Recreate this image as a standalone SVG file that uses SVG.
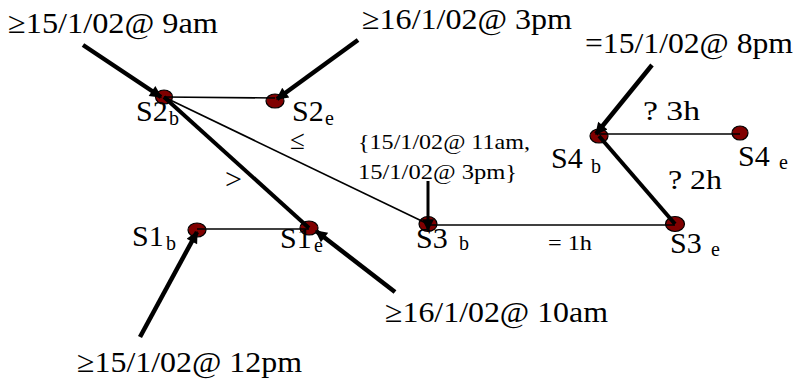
<svg xmlns="http://www.w3.org/2000/svg" width="797" height="383" viewBox="0 0 797 383">
<style>
.node{fill:#800000;stroke:#000;stroke-width:1.2}
.thin{stroke:#000;stroke-width:1.6;fill:none}
.thick{stroke:#000;stroke-width:4;fill:none}
.arrow{stroke:#000;stroke-width:4.5;fill:none;marker-end:url(#ah)}
.arrowv{stroke:#000;stroke-width:3;fill:none;marker-end:url(#ah)}
</style>
<defs>
<marker id="ah" viewBox="0 0 10 10" refX="9" refY="5" markerWidth="14" markerHeight="12" markerUnits="userSpaceOnUse" orient="auto">
<path d="M0,0 L10,5 L0,10 z" fill="#000"/>
</marker>
</defs>
<rect width="797" height="383" fill="#fff"/>

<g font-family="'Liberation Serif', 'DejaVu Serif', serif" fill="#000">
<g id="S2b"><ellipse class="node" cx="164" cy="97" rx="8.5" ry="7"/><text font-size="30" x="136" y="121">S2</text><text font-size="20" x="169" y="125">b</text></g>
<g id="S2e"><ellipse class="node" cx="275" cy="101" rx="9" ry="7"/><text font-size="30" x="292" y="121">S2</text><text font-size="20" x="325" y="125">e</text></g>
<g id="S1b"><ellipse class="node" cx="197" cy="230" rx="9" ry="7"/><text font-size="30" x="132" y="246">S1</text><text font-size="20" x="166" y="250">b</text></g>
<g id="S1e"><ellipse class="node" cx="309" cy="228" rx="9" ry="7"/><text font-size="30" x="280" y="248">S1</text><text font-size="20" x="314" y="252">e</text></g>
<g id="S3b"><ellipse class="node" cx="428" cy="224" rx="9" ry="7.5"/><text font-size="30" x="416" y="248">S3</text><text font-size="20" x="459" y="250">b</text></g>
<g id="S3e"><ellipse class="node" cx="675" cy="224" rx="9.5" ry="7.5"/><text font-size="30" x="670" y="253">S3</text><text font-size="20" x="711" y="256">e</text></g>
<g id="S4b"><ellipse class="node" cx="599" cy="136" rx="9" ry="7"/><text font-size="30" x="551" y="168">S4</text><text font-size="20" x="591" y="173">b</text></g>
<g id="S4e"><ellipse class="node" cx="740" cy="133" rx="8" ry="7"/><text font-size="30" x="738" y="166">S4</text><text font-size="20" x="779" y="169">e</text></g>
</g>

<g id="connectors">
<line class="thin" x1="164" y1="97" x2="275" y2="98"/>
<line class="thin" x1="164" y1="97" x2="428" y2="224"/>
<line class="thin" x1="197" y1="229" x2="309" y2="229"/>
<line class="thin" x1="428" y1="225" x2="675" y2="225"/>
<line class="thin" x1="599" y1="134" x2="740" y2="134"/>
<line class="thick" x1="164" y1="97" x2="309" y2="228"/>
<line class="thick" x1="599" y1="136" x2="675" y2="224"/>
<line class="arrow" x1="83" y1="45" x2="161" y2="97"/>
<line class="arrow" x1="358" y1="40" x2="277" y2="99"/>
<line class="arrow" x1="652" y1="65" x2="596" y2="134"/>
<line class="arrow" x1="140" y1="337" x2="197" y2="232"/>
<line class="arrow" x1="395" y1="292" x2="316" y2="231"/>
<line class="arrowv" x1="428" y1="181" x2="428" y2="230"/>
</g>

<g id="labels" font-family="'Liberation Serif', 'DejaVu Serif', serif" fill="#000">
<text font-size="30" x="8" y="33" textLength="210" lengthAdjust="spacingAndGlyphs">≥15/1/02@ 9am</text>
<text font-size="30" x="362" y="29" textLength="210" lengthAdjust="spacingAndGlyphs">≥16/1/02@ 3pm</text>
<text font-size="30" x="585" y="53" textLength="208" lengthAdjust="spacingAndGlyphs">=15/1/02@ 8pm</text>
<text font-size="30" x="385" y="322" textLength="223" lengthAdjust="spacingAndGlyphs">≥16/1/02@ 10am</text>
<text font-size="30" x="77" y="372" textLength="225" lengthAdjust="spacingAndGlyphs">≥15/1/02@ 12pm</text>
<text font-size="21" x="358" y="149" textLength="172" lengthAdjust="spacingAndGlyphs">{15/1/02@ 11am,</text>
<text font-size="21" x="358" y="179" textLength="159" lengthAdjust="spacingAndGlyphs">15/1/02@ 3pm}</text>
<text font-size="27" x="290" y="149">≤</text>
<text font-size="30" x="225" y="189">&gt;</text>
<text font-size="28" x="643" y="120" textLength="57" lengthAdjust="spacingAndGlyphs">? 3h</text>
<text font-size="28" x="668" y="189" textLength="54" lengthAdjust="spacingAndGlyphs">? 2h</text>
<text font-size="20" x="548" y="250" textLength="44" lengthAdjust="spacingAndGlyphs">= 1h</text>
</g>
</svg>
